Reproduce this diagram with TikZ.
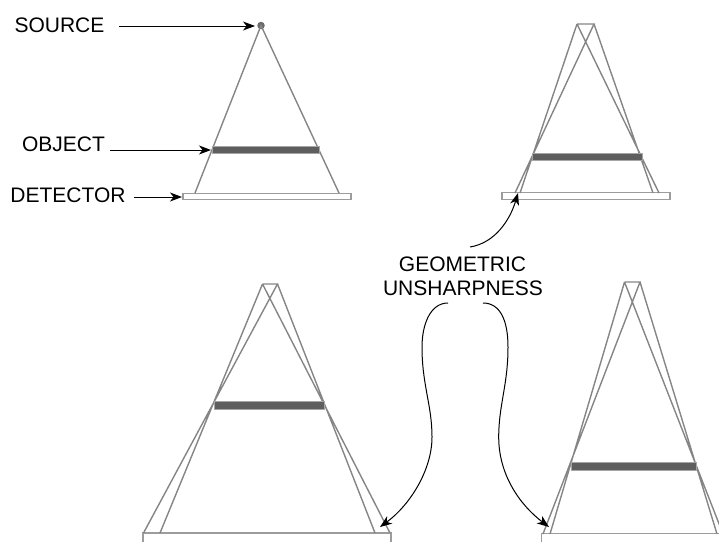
\documentclass[tikz,border=0pt]{standalone}
\usepackage{fontspec}
\setmainfont{Liberation Sans}
\usetikzlibrary{arrows.meta}
\definecolor{beamgray}{HTML}{858585}
\definecolor{objgray}{HTML}{5E5E5E}
\definecolor{detgray}{HTML}{9C9C9C}
\tikzset{
  beam/.style={draw=beamgray,line width=1.4pt},
  objbar/.style={draw=objgray!55,fill=objgray,line width=0.8pt,inner sep=0pt,minimum height=7.5pt},
  detector/.style={draw=detgray,fill=white,line width=1.5pt,inner sep=0pt},
  label/.style={font=\fontsize{21}{24}\selectfont,inner sep=0pt,text=black,align=center},
  pointer/.style={draw=black,line width=1pt,-{Stealth[length=12pt,width=9pt,inset=3.5pt]}}
}
\begin{document}
\begin{tikzpicture}[x=1pt,y=-1pt]
\clip (0,0) rectangle (719,541);
% Panel A
\node[detector,minimum width=168pt,minimum height=6pt] (detA) at (267,196.5) {};
\node[circle,fill=beamgray!80!black,inner sep=0pt,minimum size=7.5pt] (srcA) at (261,25.5) {};
\coordinate (aL) at (195,193); \coordinate (aR) at (339,193);
\draw[beam] (aL) -- (srcA.center) -- (aR);
\node[objbar,minimum width=107pt] (objA) at (265.5,150) {};
% Panel B
\node[detector,minimum width=168pt,minimum height=7pt] (detB) at (586,196) {};
\coordinate (b1) at (577,24); \coordinate (b2) at (594,24);
\coordinate (bL1) at (515,193); \coordinate (bL2) at (520,193);
\coordinate (bR1) at (653,193); \coordinate (bR2) at (659,193);
\draw[beam] (b1) -- (b2) -- (bL1) (b1) -- (bL2) (b1) -- (bR2) (b2) -- (bR1);
\node[objbar,minimum width=110pt] (objB) at (587,157) {};
% Panel C
\node[detector,minimum width=248pt,minimum height=10pt] (detC) at (267,538) {};
\coordinate (c1) at (262.5,284); \coordinate (c2) at (277.5,284);
\coordinate (cL1) at (143.5,533); \coordinate (cL2) at (160,533);
\coordinate (cR1) at (375,533); \coordinate (cR2) at (390,533);
\draw[beam] (c1) -- (c2) -- (cL1) (c1) -- (cL2) (c1) -- (cR2) (c2) -- (cR1);
\node[objbar,minimum width=110pt] (objC) at (269.5,405.5) {};
% Panel D
\node[detector,minimum width=200pt,minimum height=10pt] (detD) at (641.5,538.5) {};
\coordinate (d1) at (624.5,282); \coordinate (d2) at (640,282);
\coordinate (dL1) at (543,534); \coordinate (dL2) at (550,534);
\coordinate (dR1) at (717,534); \coordinate (dR2) at (723,534);
\draw[beam] (d1) -- (d2) -- (dL1) (d1) -- (dL2) (d1) -- (dR2) (d2) -- (dR1);
\node[objbar,minimum width=125pt] (objD) at (633.5,466.5) {};
% Labels
\node[label] (lsrc) at (59.5,25) {SOURCE};
\node[label] (lobj) at (63.5,144.5) {OBJECT};
\node[label] (ldet) at (68,195.5) {DETECTOR};
\node[label] (lgeo) at (462.5,264) {GEOMETRIC};
\node[label] (luns) at (463,288) {UNSHARPNESS};
% Pointers
\coordinate (tipsrc) at (255,26);
\coordinate (tipobj) at (211,150);
\coordinate (tipdet) at (182,197);
\coordinate (fromsrc) at (119,26);
\coordinate (fromobj) at (110,150);
\coordinate (fromdet) at (134,197);
\draw[pointer] (fromsrc) -- (tipsrc);
\draw[pointer] (fromobj) -- (tipobj);
\draw[pointer] (fromdet) -- (tipdet);
\coordinate (startB) at (470,247);
\coordinate (tipB) at (518,193);
\draw[pointer] (startB) .. controls (495,243) and (510,220) .. (tipB);
\coordinate (startC) at (448,303);
\coordinate (tipC) at (380,527);
\draw[pointer] (startC) .. controls (430,303) and (422,325) .. (422,347)
  .. controls (422,385) and (432,405) .. (432,437)
  .. controls (432,470) and (410,505) .. (tipC);
\coordinate (startD) at (483,303);
\coordinate (tipD) at (549,527);
\draw[pointer] (startD) .. controls (500,303) and (508,320) .. (508,347)
  .. controls (508,385) and (498.7,405) .. (498.7,437)
  .. controls (498.7,475) and (520,505) .. (tipD);
\end{tikzpicture}
\end{document}
